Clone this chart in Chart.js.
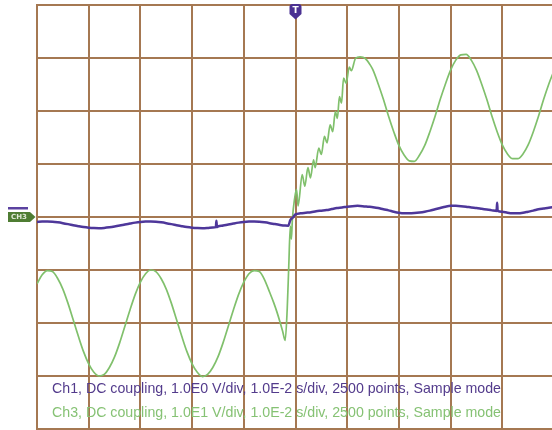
<!DOCTYPE html>
<html>
<head>
<meta charset="utf-8">
<script src="https://cdn.jsdelivr.net/npm/chart.js@4"></script>
<style>
html,body{margin:0;padding:0;background:#fff;overflow:hidden;width:552px;height:430px;}
#wrap{position:relative;width:552px;height:430px;overflow:hidden;}
#c{position:absolute;left:0;top:0;}
.lbl{position:absolute;font-family:"Liberation Sans",Arial,sans-serif;font-size:14.2px;line-height:14px;white-space:nowrap;}
</style>
</head>
<body>
<div id="wrap">
<canvas id="c" width="556" height="432"></canvas>
<div class="lbl" id="l1" style="left:52px;top:381px;color:#533b8c"></div>
<div class="lbl" id="l3" style="left:52px;top:405px;color:#86c274"></div>
</div>
<script>
// ---- data (time in ms, 10 ms/div, trigger at 50 ms) ----
const ch3Time = [
  0,1,2,3,4,5,6,7,8,9,
  10,11,12,13,14,15,16,17,18,19,
  20,21,22,23,24,25,26,27,28,29,
  30,31,32,33,34,35,36,37,38,39,
  40,41,42,43,44,45,45.8,46.4,47,47.5,
  48,48.4,48.7,49,49.2,49.4,49.8,50.2,50.5,51.3,
  51.8,52.4,52.9,53.5,53.8,54.5,55,55.6,56.1,56.7,
  57.2,57.7,58.1,58.5,58.9,59.3,59.8,60.4,60.8,61.6,
  62.5,63.5,64.5,65,66,67,68,69,70,71,
  72,73,74,75,76,77,78,79,80,81,
  82,83,84,85,86,87,88,89,90,91,
  92,93,94,95,96,97,98,99,100
];
// Ch3 volts (10 V/div)
const ch3Volts = [
  -12.6,-10.9,-10.1,-10.3,-11.6,-13.6,-16.3,-19.4,-22.5,-25.4,
  -27.7,-29.3,-30.0,-29.7,-28.4,-26.4,-23.7,-20.6,-17.5,-14.6,
  -12.3,-10.7,-10.0,-10.3,-11.6,-13.6,-16.3,-19.4,-22.5,-25.4,
  -27.7,-29.3,-30.1,-29.7,-28.4,-26.4,-23.7,-20.6,-17.5,-14.6,
  -12.3,-10.7,-10.1,-10.3,-11.8,-14.2,-16.2,-17.9,-19.8,-21.5,
  -23.3,-17.3,-9.2,-1.7,-4.2,-0.4,3.3,5.2,2.1,8.0,
  5.8,9.3,7.4,10.8,9.3,13.0,11.8,15.2,14.0,17.4,
  16.1,19.9,18.6,22.7,21.5,26.2,25.2,28.3,27.6,29.9,
  30.2,29.9,28.6,27.7,25.1,22.2,19.0,16.1,13.5,11.7,
  10.6,10.5,11.7,13.5,16.1,19.0,22.2,25.1,27.7,29.6,
  30.6,30.7,29.6,27.7,25.1,22.2,19.0,16.1,13.6,11.9,
  11.0,11.0,11.9,13.6,16.1,19.0,22.2,25.1,27.6
];
const ch1Time = [
  0,1,2,3,4,5,6,7,8,9,
  10,11,12,13,14,15,16,17,18,19,
  20,21,22,23,24,25,26,27,28,29,
  30,31,32,33,34,34.6,34.7,34.8,35,36,
  37,38,39,40,41,42,43,44,45,46,
  47,48,48.6,49,49.5,50,51,52,53,54,
  55,56,57,58,59,60,61,62,63,64,
  65,66,67,68,69,70,71,72,73,74,
  75,76,77,78,79,80,81,82,83,84,
  85,86,87,88,88.9,89,89.1,90,91,92,
  93,94,95,96,97,98,99,100
];
// Ch1 volts (1 V/div)
const ch1Volts = [
  -0.094,-0.087,-0.085,-0.090,-0.101,-0.116,-0.134,-0.154,-0.173,-0.190,
  -0.202,-0.209,-0.211,-0.206,-0.195,-0.180,-0.162,-0.142,-0.123,-0.106,
  -0.094,-0.087,-0.085,-0.090,-0.101,-0.116,-0.134,-0.154,-0.173,-0.190,
  -0.202,-0.209,-0.211,-0.206,-0.197,-0.190,-0.070,-0.190,-0.180,-0.162,
  -0.142,-0.123,-0.106,-0.094,-0.087,-0.085,-0.090,-0.101,-0.116,-0.134,
  -0.150,-0.162,-0.165,-0.060,-0.010,0.050,0.070,0.080,0.090,0.110,
  0.120,0.130,0.150,0.170,0.180,0.195,0.205,0.210,0.205,0.195,
  0.185,0.170,0.145,0.125,0.100,0.080,0.070,0.070,0.075,0.085,
  0.100,0.120,0.145,0.170,0.195,0.210,0.210,0.205,0.195,0.180,
  0.170,0.155,0.140,0.125,0.115,0.270,0.115,0.100,0.080,0.070,
  0.070,0.080,0.100,0.120,0.145,0.160,0.175,0.185
];
const timeTicksMs = [0,10,20,30,40,50,60,70,80,90,100];
const ch3VoltTicks = [-40,-30,-20,-10,0,10,20,30,40];
const ch1VoltRange = [-4,4];
const triggerMs = 50;
const legendCh1 = "Ch1, DC coupling, 1.0E0 V/div, 1.0E-2 s/div, 2500 points, Sample mode";
const legendCh3 = "Ch3, DC coupling, 1.0E1 V/div, 1.0E-2 s/div, 2500 points, Sample mode";

document.getElementById('l1').textContent = legendCh1;
document.getElementById('l3').textContent = legendCh3;

const gridColor = '#a57852';
const pts = (ts, vs) => ts.map((t, i) => ({x: t, y: vs[i]}));

const markers = {
  id: 'markers',
  afterDraw(chart) {
    const ctx = chart.ctx, xs = chart.scales.x, ys = chart.scales.y3;
    const y0 = ys.getPixelForValue(0);
    ctx.save();
    // CH3 ground tag
    ctx.fillStyle = '#5b42a0';
    ctx.fillRect(8, y0 - 10, 20, 2.5);
    ctx.fillStyle = '#4f7d33';
    ctx.beginPath();
    ctx.moveTo(8, y0 - 5); ctx.lineTo(30, y0 - 5); ctx.lineTo(35.5, y0);
    ctx.lineTo(30, y0 + 5); ctx.lineTo(8, y0 + 5); ctx.closePath(); ctx.fill();
    ctx.fillStyle = '#dfe8d6';
    ctx.font = 'bold 7px "DejaVu Sans"';
    ctx.textAlign = 'center'; ctx.textBaseline = 'middle';
    ctx.fillText('CH3', 19, y0 + 0.5);
    // Trigger tag
    const xt = xs.getPixelForValue(triggerMs);
    ctx.fillStyle = '#4b3192';
    ctx.beginPath();
    ctx.moveTo(xt - 6, 7); ctx.quadraticCurveTo(xt - 6, 4, xt - 3, 4);
    ctx.lineTo(xt + 3, 4); ctx.quadraticCurveTo(xt + 6, 4, xt + 6, 7);
    ctx.lineTo(xt + 6, 14); ctx.lineTo(xt, 19.5); ctx.lineTo(xt - 6, 14);
    ctx.closePath(); ctx.fill();
    ctx.fillStyle = '#ffffff';
    ctx.font = 'bold 9px "DejaVu Sans"';
    ctx.fillText('T', xt, 11);
    ctx.restore();
  }
};

new Chart(document.getElementById('c'), {
  type: 'line',
  data: {
    datasets: [
      {
        label: 'Ch1', data: pts(ch1Time, ch1Volts), yAxisID: 'y1',
        borderColor: '#4e379a', borderWidth: 2.5, pointRadius: 0,
        cubicInterpolationMode: 'monotone', fill: false
      },
      {
        label: 'Ch3', data: pts(ch3Time, ch3Volts), yAxisID: 'y3',
        borderColor: '#80c06c', borderWidth: 1.7, pointRadius: 0,
        cubicInterpolationMode: 'monotone', fill: false
      }
    ]
  },
  options: {
    responsive: false,
    animation: false,
    devicePixelRatio: 1,
    layout: {padding: {left: 37, top: 5, right: 2, bottom: 3}},
    plugins: {legend: {display: false}, tooltip: {enabled: false}},
    scales: {
      x: {
        type: 'linear', min: timeTicksMs[0], max: timeTicksMs[timeTicksMs.length - 1],
        afterBuildTicks(s) { s.ticks = timeTicksMs.map(v => ({value: v})); },
        ticks: {display: false},
        grid: {color: gridColor, lineWidth: 2, drawTicks: false},
        border: {color: gridColor, width: 2},
        afterFit(s) { s.height = 0; }
      },
      y3: {
        position: 'left', min: ch3VoltTicks[0], max: ch3VoltTicks[ch3VoltTicks.length - 1],
        afterBuildTicks(s) { s.ticks = ch3VoltTicks.map(v => ({value: v})); },
        ticks: {display: false},
        grid: {color: gridColor, lineWidth: 2, drawTicks: false},
        border: {color: gridColor, width: 2},
        afterFit(s) { s.width = 0; }
      },
      y1: {display: false, min: ch1VoltRange[0], max: ch1VoltRange[1]}
    }
  },
  plugins: [markers]
});
</script>
</body>
</html>
